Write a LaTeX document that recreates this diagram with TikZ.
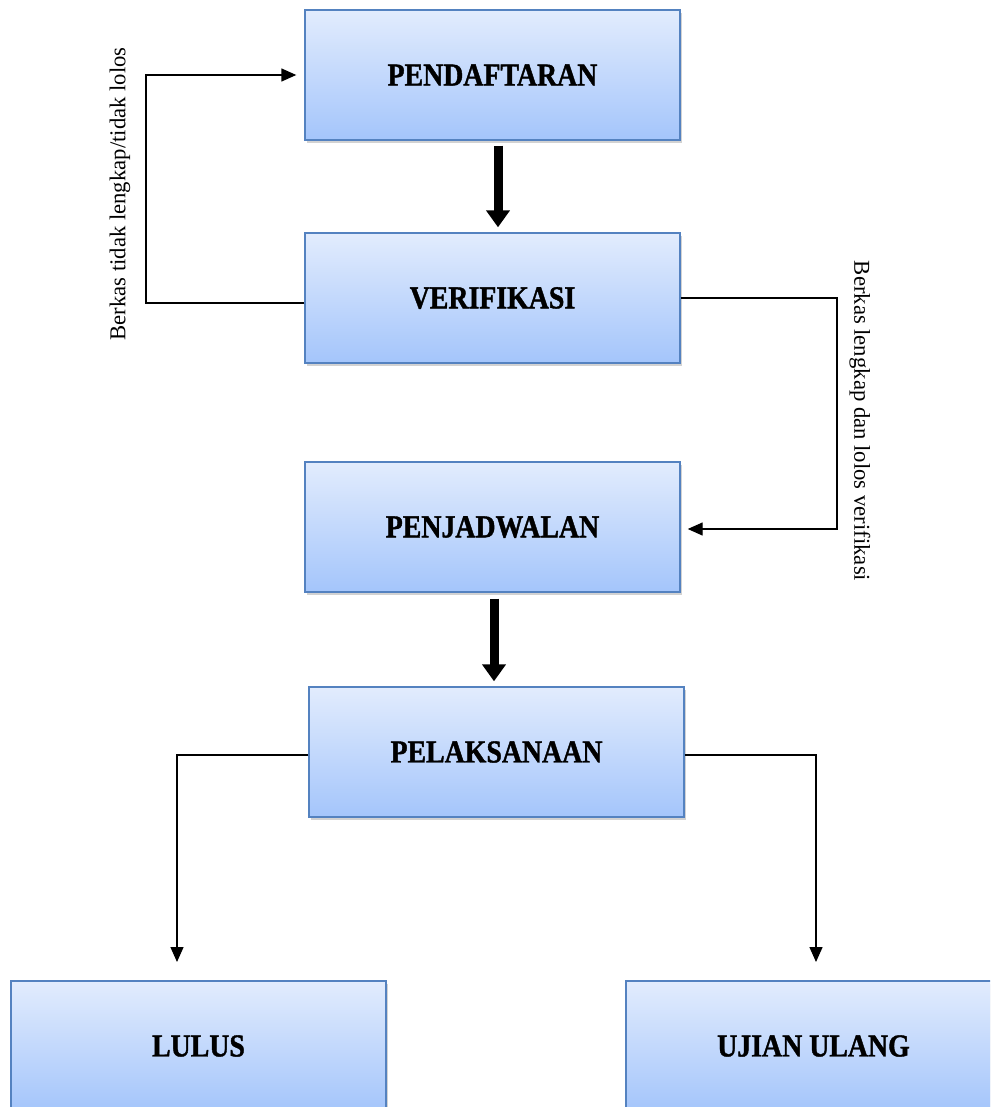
\documentclass[tikz,border=0pt]{standalone}
\usepackage{fontspec}
\setmainfont{Liberation Serif}
\newfontfamily\boxfont[FakeStretch=0.87, FakeBold=1.2]{Liberation Serif Bold}
\usetikzlibrary{shadows,arrows.meta}
\definecolor{boxtop}{RGB}{226,236,253}
\definecolor{boxbot}{RGB}{164,197,251}
\definecolor{boxline}{RGB}{84,130,192}
\begin{document}
\begin{tikzpicture}[x=1pt,y=-1pt,
  stagebox/.style={draw=boxline, line width=1.4pt, top color=boxtop, bottom color=boxbot,
    minimum width=375pt, minimum height=130pt, inner sep=0pt,
    font=\boxfont\fontsize{32}{36}\selectfont,
    drop shadow={shadow xshift=2pt, shadow yshift=-3pt, fill=black!35, opacity=0.5}},
  thickarrow/.style={line width=9pt, -{Triangle[width=23pt,length=17pt]}},
  thinarrow/.style={line width=1.4pt, -{Triangle[width=13pt,length=15pt]}},
  sidelabel/.style={font=\fontsize{22.7}{26}\selectfont, inner sep=0pt}]
\useasboundingbox (0,0) rectangle (990,1107);
\clip (0,0) rectangle (990,1107);
\fill[white] (0,0) rectangle (990,1107);

\node[stagebox] (pend) at (492.5,75) {PENDAFTARAN};
\node[stagebox] (ver)  at (492.5,298) {VERIFIKASI};
\node[stagebox] (jad)  at (492.5,527) {PENJADWALAN};
\node[stagebox] (pel)  at (496.5,752) {PELAKSANAAN};
\node[stagebox] (lul)  at (198.5,1046) {LULUS};
\node[stagebox] (uji)  at (813.5,1046) {UJIAN ULANG};

% thick arrows
\draw[thickarrow, shorten <=5pt, shorten >=5pt] ([xshift=5.5pt]pend.south) -- ([xshift=5.5pt]ver.north);
\draw[thickarrow, shorten <=6pt, shorten >=5pt] ([xshift=1.5pt]jad.south) -- ([xshift=-2.5pt]pel.north);

% left feedback
\coordinate (lc1) at (146,303);
\coordinate (lc2) at (146,75);
\draw[thinarrow, shorten >=8pt] (ver.west |- lc1) -- (lc1) -- (lc2) -- (pend.west |- lc2);
\node[sidelabel, rotate=90] (lab1) at (120,194) {Berkas tidak lengkap/tidak lolos};

% right connector
\coordinate (rc1) at (837,298);
\coordinate (rc2) at (837,529);
\draw[thinarrow, shorten >=7pt] (ver.east) -- (rc1) -- (rc2) -- (jad.east |- rc2);
\node[sidelabel, rotate=-90] (lab2) at (860,421) {Berkas lengkap dan lolos verifikasi};

% bottom branches
\coordinate (bl1) at (177,755);
\coordinate (bl2) at (177,962);
\coordinate (br1) at (816,755);
\coordinate (br2) at (816,962);
\draw[thinarrow] (pel.west |- bl1) -- (bl1) -- (bl2);
\draw[thinarrow] (pel.east |- br1) -- (br1) -- (br2);
\end{tikzpicture}
\end{document}
